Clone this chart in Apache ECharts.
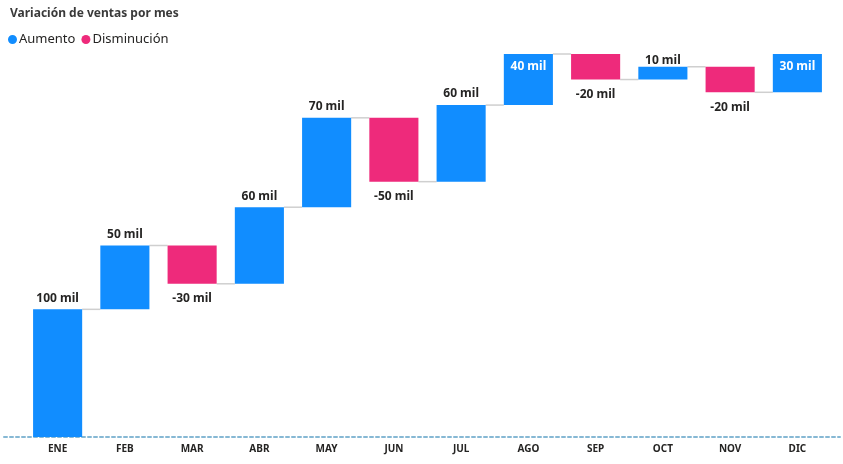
<!DOCTYPE html>
<html>
<head>
<meta charset="utf-8">
<script src="https://cdn.jsdelivr.net/npm/echarts@6/dist/echarts.min.js"></script>
<style>
  html, body { margin: 0; padding: 0; background: #fff; }
  #chart { width: 843px; height: 464px; }
</style>
</head>
<body>
<div id="chart"></div>
<script>
// datos del gráfico (miles)
const months = ['ENE', 'FEB', 'MAR', 'ABR', 'MAY', 'JUN', 'JUL', 'AGO', 'SEP', 'OCT', 'NOV', 'DIC'];
const changes = [100, 50, -30, 60, 70, -50, 60, 40, -20, 10, -20, 30];
const yMax = 300;

const BLUE = '#118DFF';
const PINK = '#EE2A7B';
const FONT = 'Noto Sans';
const BAR_RATIO = 0.73;
const DOT = 'path://M50,0A50,50,0,1,1,49.99,0Z';

// acumulados para la cascada
let cum = [];
let run = 0;
for (let i = 0; i < changes.length; i++) {
    run += changes[i];
    cum.push(run);
}

let baseData = [], upData = [], downData = [];
for (let i = 0; i < changes.length; i++) {
    let start = i === 0 ? 0 : cum[i - 1];
    let end = cum[i];
    if (changes[i] >= 0) {
        baseData.push(start);
        let inside = end >= yMax;
        upData.push({
            value: changes[i],
            label: inside
                ? {position: 'insideTop', distance: 7, color: '#ffffff'}
                : {position: 'top', distance: changes[i] < 15 ? 0 : 5}
        });
        downData.push('-');
    } else {
        baseData.push(end);
        upData.push('-');
        downData.push(-changes[i]);
    }
}

// líneas de conexión entre barras
let connectors = [];
for (let i = 0; i < changes.length - 1; i++) {
    connectors.push([i, cum[i]]);
}

let chart = echarts.init(document.getElementById('chart'));

let option = {
    animation: false,
    title: {
        text: 'Variación de ventas por mes',
        left: 5,
        top: 3,
        textStyle: {fontFamily: FONT, fontSize: 12, fontWeight: 'bold', color: '#3a3a3a'}
    },
    legend: {
        data: [
            {name: 'Aumento', icon: DOT},
            {name: 'Disminución', icon: DOT}
        ],
        left: 3,
        top: 28,
        itemWidth: 9,
        itemHeight: 9,
        itemGap: 6,
        itemStyle: {borderWidth: 0, borderRadius: 0},
        textStyle: {fontFamily: FONT, fontSize: 13, color: '#252423', padding: [0, 0, 0, -3]}
    },
    grid: [
        {left: 24, right: 12, top: 54, bottom: 27},
        {left: 4, right: 3, top: 54, bottom: 27}
    ],
    xAxis: [{
        type: 'category',
        data: months,
        gridIndex: 0,
        axisLine: {show: false},
        axisTick: {show: false},
        axisLabel: {fontFamily: FONT, fontSize: 10, fontWeight: 'bold', color: '#252423', margin: 7}
    }, {
        type: 'value',
        gridIndex: 1,
        min: 0,
        max: 1,
        axisLine: {show: true, lineStyle: {color: '#86b8d4', width: 2, type: [3, 3]}},
        axisTick: {show: false},
        axisLabel: {show: false},
        splitLine: {show: false}
    }],
    yAxis: [{
        type: 'value',
        gridIndex: 0,
        min: 0,
        max: yMax,
        show: false
    }, {
        type: 'value',
        gridIndex: 1,
        min: 0,
        max: yMax,
        show: false
    }],
    series: [{
        name: 'base',
        type: 'bar',
        stack: 'w',
        barWidth: (BAR_RATIO * 100) + '%',
        itemStyle: {color: 'transparent'},
        data: baseData,
        silent: true
    }, {
        name: 'Aumento',
        type: 'bar',
        stack: 'w',
        z: 3,
        itemStyle: {color: BLUE},
        label: {
            show: true,
            fontFamily: FONT,
            fontSize: 12,
            fontWeight: 'bold',
            color: '#252423',
            formatter: function (p) { return p.value + ' mil'; }
        },
        data: upData
    }, {
        name: 'Disminución',
        type: 'bar',
        stack: 'w',
        z: 3,
        itemStyle: {color: PINK},
        label: {
            show: true,
            position: 'bottom',
            distance: 9,
            fontFamily: FONT,
            fontSize: 12,
            fontWeight: 'bold',
            color: '#252423',
            formatter: function (p) { return '-' + p.value + ' mil'; }
        },
        data: downData
    }, {
        name: 'conector',
        type: 'custom',
        silent: true,
        z: 1,
        renderItem: function (params, api) {
            let p = api.coord([api.value(0), api.value(1)]);
            let band = api.size([1, 0])[0];
            let half = band * BAR_RATIO / 2;
            return {
                type: 'line',
                shape: {x1: p[0] + half, y1: p[1], x2: p[0] + band - half, y2: p[1]},
                style: {stroke: '#cfcfcf', lineWidth: 1.5}
            };
        },
        data: connectors
    }]
};

chart.setOption(option);
</script>
</body>
</html>
